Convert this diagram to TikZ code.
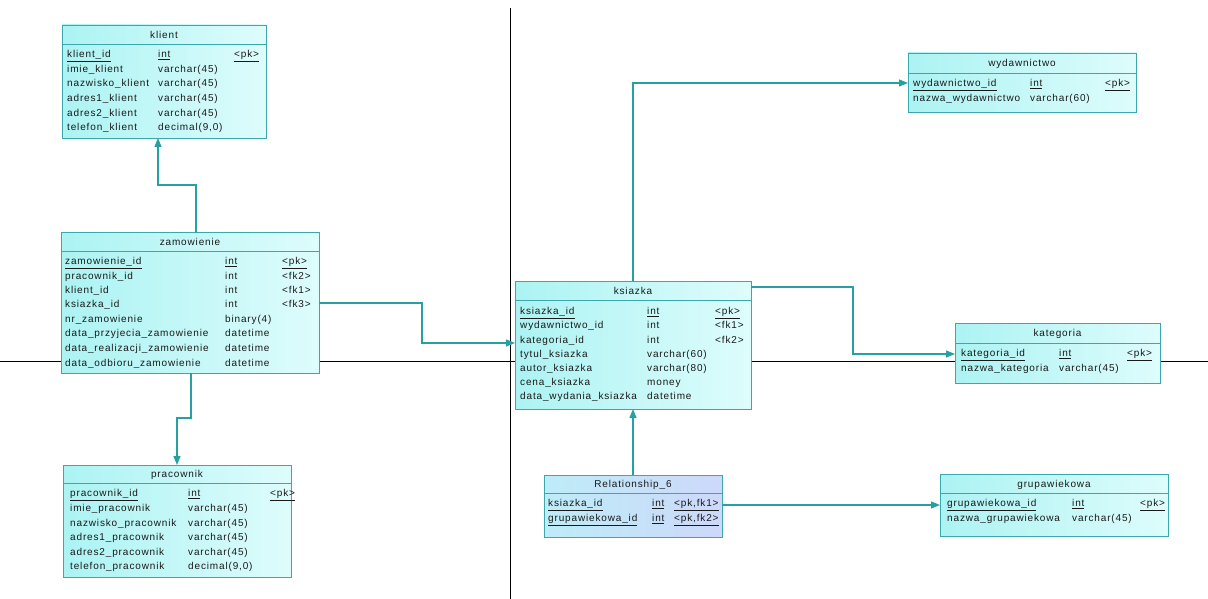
\documentclass[tikz,border=0pt]{standalone}
\usepackage{fontspec}
\newfontfamily\erfont{Liberation Sans}[LetterSpace=8.5]
\usetikzlibrary{arrows.meta}
\definecolor{tborder}{RGB}{60,168,172}
\definecolor{tconn}{RGB}{38,160,160}
\definecolor{tfillA}{RGB}{172,243,243}
\definecolor{tfillB}{RGB}{222,252,252}
\definecolor{rfillA}{RGB}{190,236,248}
\definecolor{rfillB}{RGB}{205,216,250}
\newcommand{\pku}[1]{\underline{#1}}
\newcommand{\erow}[8]{%
  \node[cell] (#1n) at (#3,#2) {#6};
  \node[cell] (#1t) at (#4,#2) {#7};
  \node[cell] (#1k) at (#5,#2) {#8};}
\tikzset{
  x=1pt, y=-1pt,
  tbl/.style={draw=tborder, line width=0.9pt, left color=tfillA, right color=tfillB,
    anchor=north west, inner sep=0pt, outer sep=0pt},
  rtbl/.style={tbl, left color=rfillA, right color=rfillB},
  hline/.style={draw=tborder, line width=0.8pt},
  cell/.style={anchor=base west, yshift=-3.5pt, inner sep=0pt, text=black!90,
    font=\erfont\fontsize{10}{12}\selectfont},
  ttl/.style={cell, anchor=base},
  conn/.style={draw=tconn, line width=1.2pt, -{Triangle[length=9pt,width=7pt]}},
  axisline/.style={draw=black, line width=0.8pt}
}
\begin{document}
\begin{tikzpicture}
\useasboundingbox[fill=white] (0,0) rectangle (1208,599);
\draw[axisline] (510,8) -- (510,599);
\draw[axisline] (0,361) -- (1208,361);

% klient
\node[tbl, minimum width=204pt, minimum height=113pt] (klient) at (62,25) {};
\draw[hline] ([yshift=-19pt]klient.north west) -- ([yshift=-19pt]klient.north east);
\node[ttl] (klient-title) at ([yshift=-10pt]klient.north) {klient};
\erow{kl1}{54}{67}{158}{234}{\pku{klient\_id}}{\pku{int}}{\pku{<pk>}}
\erow{kl2}{69}{67}{158}{234}{imie\_klient}{varchar(45)}{}
\erow{kl3}{83}{67}{158}{234}{nazwisko\_klient}{varchar(45)}{}
\erow{kl4}{98}{67}{158}{234}{adres1\_klient}{varchar(45)}{}
\erow{kl5}{113}{67}{158}{234}{adres2\_klient}{varchar(45)}{}
\erow{kl6}{127}{67}{158}{234}{telefon\_klient}{decimal(9,0)}{}

% zamowienie
\node[tbl, minimum width=258pt, minimum height=141pt] (zam) at (61,232) {};
\draw[hline] ([yshift=-19pt]zam.north west) -- ([yshift=-19pt]zam.north east);
\node[ttl] (zam-title) at ([yshift=-10pt]zam.north) {zamowienie};
\erow{za1}{261}{65}{225}{282}{\pku{zamowienie\_id}}{\pku{int}}{\pku{<pk>}}
\erow{za2}{276}{65}{225}{282}{pracownik\_id}{int}{<fk2>}
\erow{za3}{290}{65}{225}{282}{klient\_id}{int}{<fk1>}
\erow{za4}{304}{65}{225}{282}{ksiazka\_id}{int}{<fk3>}
\erow{za5}{319}{65}{225}{282}{nr\_zamowienie}{binary(4)}{}
\erow{za6}{333}{65}{225}{282}{data\_przyjecia\_zamowienie}{datetime}{}
\erow{za7}{348}{65}{225}{282}{data\_realizacji\_zamowienie}{datetime}{}
\erow{za8}{363}{65}{225}{282}{data\_odbioru\_zamowienie}{datetime}{}

% pracownik
\node[tbl, minimum width=228pt, minimum height=112pt] (prac) at (63,465) {};
\draw[hline] ([yshift=-18pt]prac.north west) -- ([yshift=-18pt]prac.north east);
\node[ttl] (prac-title) at ([yshift=-9pt]prac.north) {pracownik};
\erow{pr1}{493}{70}{188}{270}{\pku{pracownik\_id}}{\pku{int}}{\pku{<pk>}}
\erow{pr2}{508}{70}{188}{270}{imie\_pracownik}{varchar(45)}{}
\erow{pr3}{523}{70}{188}{270}{nazwisko\_pracownik}{varchar(45)}{}
\erow{pr4}{537}{70}{188}{270}{adres1\_pracownik}{varchar(45)}{}
\erow{pr5}{552}{70}{188}{270}{adres2\_pracownik}{varchar(45)}{}
\erow{pr6}{566}{70}{188}{270}{telefon\_pracownik}{decimal(9,0)}{}

% ksiazka
\node[tbl, minimum width=236pt, minimum height=128pt] (ksiazka) at (515,281) {};
\draw[hline] ([yshift=-19pt]ksiazka.north west) -- ([yshift=-19pt]ksiazka.north east);
\node[ttl] (ksiazka-title) at ([yshift=-10pt]ksiazka.north) {ksiazka};
\erow{ks1}{311}{520}{647}{715}{\pku{ksiazka\_id}}{\pku{int}}{\pku{<pk>}}
\erow{ks2}{325}{520}{647}{715}{wydawnictwo\_id}{int}{<fk1>}
\erow{ks3}{340}{520}{647}{715}{kategoria\_id}{int}{<fk2>}
\erow{ks4}{354}{520}{647}{715}{tytul\_ksiazka}{varchar(60)}{}
\erow{ks5}{368}{520}{647}{715}{autor\_ksiazka}{varchar(80)}{}
\erow{ks6}{382}{520}{647}{715}{cena\_ksiazka}{money}{}
\erow{ks7}{396}{520}{647}{715}{data\_wydania\_ksiazka}{datetime}{}

% wydawnictwo
\node[tbl, minimum width=228pt, minimum height=59pt] (wyd) at (908,53) {};
\draw[hline] ([yshift=-20pt]wyd.north west) -- ([yshift=-20pt]wyd.north east);
\node[ttl] (wyd-title) at ([yshift=-10pt]wyd.north) {wydawnictwo};
\erow{wy1}{83}{913}{1030}{1105}{\pku{wydawnictwo\_id}}{\pku{int}}{\pku{<pk>}}
\erow{wy2}{98}{913}{1030}{1105}{nazwa\_wydawnictwo}{varchar(60)}{}

% kategoria
\node[tbl, minimum width=205pt, minimum height=60pt] (kat) at (955,323) {};
\draw[hline] ([yshift=-20pt]kat.north west) -- ([yshift=-20pt]kat.north east);
\node[ttl] (kat-title) at ([yshift=-10pt]kat.north) {kategoria};
\erow{ka1}{353}{961}{1059}{1127}{\pku{kategoria\_id}}{\pku{int}}{\pku{<pk>}}
\erow{ka2}{368}{961}{1059}{1127}{nazwa\_kategoria}{varchar(45)}{}

% Relationship_6
\node[rtbl, minimum width=178pt, minimum height=62pt] (rel) at (544,475) {};
\draw[hline] ([yshift=-18pt]rel.north west) -- ([yshift=-18pt]rel.north east);
\node[ttl] (rel-title) at ([yshift=-9pt]rel.north) {Relationship\_6};
\erow{re1}{503}{548}{652}{674}{\pku{ksiazka\_id}}{\pku{int}}{\pku{<pk,fk1>}}
\erow{re2}{518}{548}{652}{674}{\pku{grupawiekowa\_id}}{\pku{int}}{\pku{<pk,fk2>}}

% grupawiekowa
\node[tbl, minimum width=228pt, minimum height=62pt] (grupa) at (940,474) {};
\draw[hline] ([yshift=-19pt]grupa.north west) -- ([yshift=-19pt]grupa.north east);
\node[ttl] (grupa-title) at ([yshift=-10pt]grupa.north) {grupawiekowa};
\erow{gr1}{503}{947}{1072}{1140}{\pku{grupawiekowa\_id}}{\pku{int}}{\pku{<pk>}}
\erow{gr2}{518}{947}{1072}{1140}{nazwa\_grupawiekowa}{varchar(45)}{}

% connectors
\draw[conn] ([xshift=135pt]zam.north west) -- ++(0,47pt) -| ([xshift=96pt]klient.south west);
\draw[conn] ([xshift=130pt]zam.south west) -- ++(0,-45pt) -| ([xshift=114pt]prac.north west);
\draw[conn] ([yshift=-71pt]zam.north east) -- ++(103pt,0) |- ([yshift=-62pt]ksiazka.north west);
\draw[conn] ([xshift=118pt]ksiazka.north west) |- ([yshift=-30pt]wyd.north west);
\draw[conn] ([yshift=-6pt]ksiazka.north east) -- ++(102pt,0) |- ([yshift=-31pt]kat.north west);
\draw[conn] ([xshift=89pt]rel.north west) -- ([xshift=118pt]ksiazka.south west);
\draw[conn] ([yshift=-30pt]rel.north east) -- ([yshift=-31pt]grupa.north west);
\end{tikzpicture}
\end{document}
